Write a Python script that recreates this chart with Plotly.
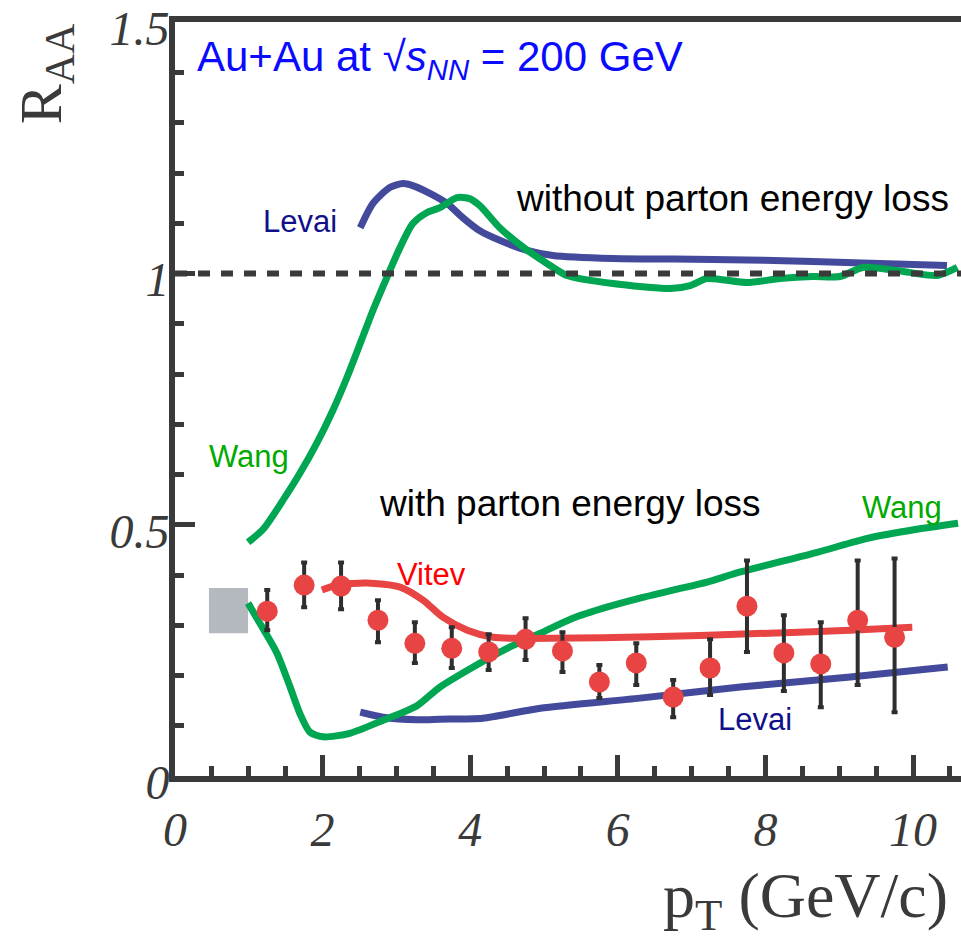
import plotly.graph_objects as go

# ---------------- data ----------------
# Data points (measurement)
pt_data = [1.25, 1.75, 2.25, 2.75, 3.25, 3.75, 4.25, 4.75, 5.25,
           5.75, 6.25, 6.75, 7.25, 7.75, 8.25, 8.75, 9.25, 9.75]
raa_data = [0.328, 0.380, 0.378, 0.310, 0.264, 0.254, 0.247, 0.272, 0.249,
            0.187, 0.225, 0.157, 0.215, 0.338, 0.245, 0.223, 0.310, 0.276]
raa_upper = [0.370, 0.425, 0.425, 0.350, 0.306, 0.296, 0.282, 0.314, 0.286,
             0.221, 0.264, 0.191, 0.272, 0.429, 0.320, 0.306, 0.429, 0.433]
raa_lower = [0.290, 0.336, 0.332, 0.266, 0.225, 0.215, 0.211, 0.231, 0.207,
             0.155, 0.181, 0.117, 0.161, 0.247, 0.169, 0.137, 0.181, 0.127]

# Levai, without parton energy loss
levai_hi_x = [2.51, 2.68, 2.91, 3.09, 3.22, 3.46, 3.69, 3.90, 4.13, 4.40,
              4.77, 5.12, 5.93, 7.29, 8.64, 10.46]
levai_hi_y = [1.091, 1.139, 1.171, 1.179, 1.175, 1.159, 1.139, 1.111, 1.085, 1.066,
              1.046, 1.036, 1.030, 1.028, 1.024, 1.016]

# Wang, without parton energy loss
wang_hi_x = [0.99, 1.20, 1.49, 1.69, 1.92, 2.14, 2.33, 2.51, 2.68, 2.87,
             3.05, 3.22, 3.41, 3.59, 3.82, 3.99, 4.13, 4.40, 4.72, 5.04,
             5.31, 5.93, 6.71, 6.98, 7.21, 7.75, 8.20, 8.64, 9.01, 9.32,
             9.78, 10.33, 10.60]
wang_hi_y = [0.465, 0.492, 0.555, 0.602, 0.662, 0.728, 0.793, 0.861, 0.926, 0.992,
             1.052, 1.099, 1.121, 1.131, 1.151, 1.149, 1.135, 1.091, 1.052, 1.020,
             0.996, 0.980, 0.970, 0.976, 0.990, 0.982, 0.990, 0.994, 0.994, 1.012,
             1.006, 0.996, 1.012]

# Wang, with parton energy loss
wang_lo_x = [0.99, 1.15, 1.38, 1.56, 1.69, 1.83, 2.01, 2.37, 2.82, 3.28,
             3.59, 4.04, 4.50, 4.95, 5.39, 5.85, 6.30, 6.75, 7.21, 7.66,
             8.70, 9.38, 10.05, 10.61]
wang_lo_y = [0.344, 0.304, 0.245, 0.177, 0.125, 0.087, 0.078, 0.085, 0.111, 0.140,
             0.177, 0.217, 0.254, 0.284, 0.314, 0.336, 0.354, 0.370, 0.386, 0.406,
             0.445, 0.473, 0.491, 0.503]

# Levai, with parton energy loss
levai_lo_x = [2.51, 2.82, 3.28, 3.59, 4.17, 4.95, 6.30, 7.66, 9.15, 10.47]
levai_lo_y = [0.127, 0.117, 0.112, 0.113, 0.115, 0.135, 0.155, 0.177, 0.197, 0.217]

# Vitev, with parton energy loss
vitev_x = [1.99, 2.20, 2.60, 3.05, 3.36, 3.63, 3.96, 4.31, 4.63, 5.08,
           6.44, 7.79, 9.15, 9.99]
vitev_y = [0.370, 0.380, 0.384, 0.376, 0.350, 0.316, 0.290, 0.276, 0.274, 0.274,
           0.277, 0.283, 0.290, 0.296]

# normalization uncertainty box [x0, x1, y0, y1]
norm_box = [0.46, 0.99, 0.284, 0.374]

x_range = [0, 10.65]
y_range = [0, 1.5005]
x_ticks = [0, 2, 4, 6, 8, 10]
y_ticks = [0, 0.5, 1, 1.5]

# ---------------- styles ----------------
AXC = "#3a3a3a"
GREEN = "#00a651"
NAVY = "#434a9c"
RED = "#e84444"

err_plus = [u - v for u, v in zip(raa_upper, raa_data)]
err_minus = [v - l for v, l in zip(raa_data, raa_lower)]

fig = go.Figure()

fig.add_shape(type="rect", xref="x", yref="y",
              x0=norm_box[0], x1=norm_box[1], y0=norm_box[2], y1=norm_box[3],
              fillcolor="#b4b9bf", line=dict(width=0), layer="below")

fig.add_shape(type="line", xref="paper", yref="y", x0=0, x1=1, y0=1, y1=1,
              line=dict(color=AXC, width=6, dash="12px,11px"))

line_kw = dict(mode="lines", hoverinfo="skip", showlegend=False)
def curve(x, y, color):
    fig.add_trace(go.Scatter(x=x, y=y,
                             line=dict(color=color, width=7, shape="spline", smoothing=0.7),
                             **line_kw))

curve(levai_hi_x, levai_hi_y, NAVY)
curve(levai_lo_x, levai_lo_y, NAVY)
curve(wang_hi_x, wang_hi_y, GREEN)
curve(wang_lo_x, wang_lo_y, GREEN)
curve(vitev_x, vitev_y, RED)

fig.add_trace(go.Scatter(
    x=pt_data, y=raa_data, mode="markers", showlegend=False,
    marker=dict(symbol="circle", size=21, color=RED, line=dict(width=0)),
    error_y=dict(type="data", symmetric=False, array=err_plus, arrayminus=err_minus,
                 color="#2e2e2e", thickness=4, width=3),
))

tickfont = dict(family="Liberation Serif", size=48, style="italic", color=AXC)

fig.update_xaxes(range=x_range, tickvals=x_ticks, ticks="inside", ticklen=21, tickwidth=5,
                 tickcolor=AXC, showline=True, linewidth=6, linecolor=AXC, mirror=True,
                 showgrid=False, zeroline=False, tickfont=tickfont, ticklabelstandoff=6,
                 ticklabeloverflow="allow", automargin=False,
                 minor=dict(dtick=0.5, tick0=0, ticks="inside", ticklen=10, tickwidth=5,
                            tickcolor=AXC, showgrid=False))
fig.update_yaxes(range=y_range, tickvals=y_ticks, ticks="inside", ticklen=20, tickwidth=5,
                 tickcolor=AXC, showline=True, linewidth=6, linecolor=AXC,
                 showgrid=False, zeroline=False, tickfont=tickfont,
                 ticklabelstandoff=-10, ticklabelshift=6, ticklabeloverflow="allow",
                 automargin=False,
                 minor=dict(dtick=0.1, tick0=0, ticks="inside", ticklen=9, tickwidth=5,
                            tickcolor=AXC, showgrid=False))

SANS = "Liberation Sans"
ann = [
    dict(text="Au+Au at √<i>s</i><sub><i>NN</i></sub> = 200 GeV", x=0.27, y=1.425,
         xanchor="left", font=dict(family=SANS, size=42, color="#0a0aff")),
    dict(text="without parton energy loss", x=7.55, y=1.149,
         font=dict(family=SANS, size=37, color="black")),
    dict(text="with parton energy loss", x=5.35, y=0.543,
         font=dict(family=SANS, size=37, color="black")),
    dict(text="Levai", x=1.69, y=1.103, font=dict(family=SANS, size=31, color="#10108a")),
    dict(text="Wang", x=1.00, y=0.636, font=dict(family=SANS, size=31, color="#00aa00")),
    dict(text="Wang", x=9.85, y=0.535, font=dict(family=SANS, size=31, color="#00aa00")),
    dict(text="Vitev", x=3.47, y=0.402, font=dict(family=SANS, size=31, color="#ff0000")),
    dict(text="Levai", x=7.86, y=0.113, font=dict(family=SANS, size=31, color="#10108a")),
]
for a in ann:
    fig.add_annotation(xref="x", yref="y", showarrow=False, yanchor="middle",
                       **({"xanchor": "center"} | a))

fig.add_annotation(xref="paper", yref="paper", x=0.986, y=-0.164, xanchor="right",
                   yanchor="middle", showarrow=False, text="p<sub>T</sub> (GeV/c)",
                   font=dict(family="Liberation Serif", size=64, color=AXC))
fig.add_annotation(xref="paper", yref="paper", x=-0.165, y=0.931, xanchor="center",
                   yanchor="middle", showarrow=False, text="R<sub>AA</sub>", textangle=-90,
                   font=dict(family="Liberation Serif", size=60, color=AXC))

fig.update_layout(width=961, height=938, margin=dict(l=175, r=0, t=22, b=162, autoexpand=False),
                  plot_bgcolor="white", paper_bgcolor="white", showlegend=False)

fig.write_html("out.html")
